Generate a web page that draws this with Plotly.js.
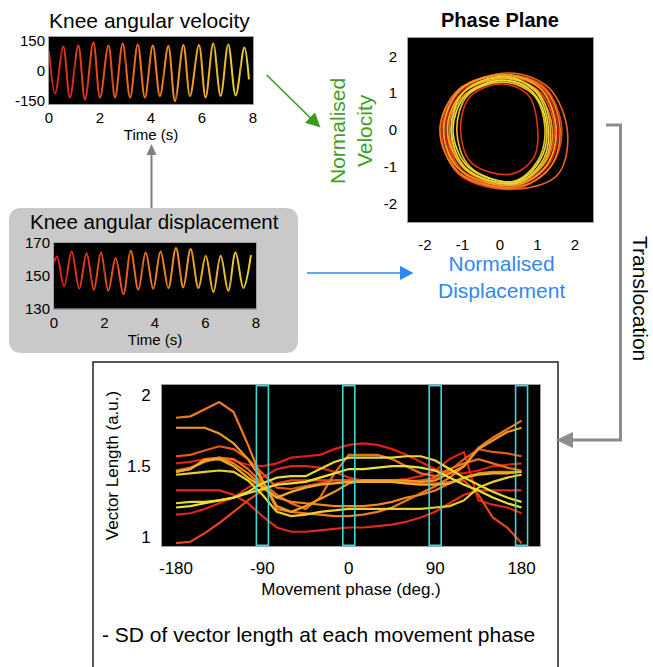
<!DOCTYPE html>
<html><head><meta charset="utf-8">
<script src="https://cdn.plot.ly/plotly-3.0.1.min.js"></script>
<style>html,body{margin:0;padding:0;background:#fff;}#chart{width:653px;height:667px;}</style>
</head><body><div id="chart"></div>
<script>
// ---------- DATA ----------
// Knee angular velocity (deg/s): start, alternating troughs/peaks, end
const velTime  = [0, 0.24, 0.56, 0.82, 1.15, 1.41, 1.74, 2.00, 2.33, 2.59, 2.89, 3.18, 3.48, 3.76, 4.07, 4.35, 4.68, 4.94, 5.27, 5.53, 5.88, 6.14, 6.44, 6.73, 7.03, 7.32, 7.66, 7.84];
const velValue = [100, -112, 122, -133, 128, -142, 142, -133, 128, -133, 138, -133, 133, -133, 128, -125, 125, -150, 130, -125, 130, -133, 138, -125, 133, -122, 117, -42];
// Knee angular displacement (deg)
const dispTime  = [0, 0.12, 0.40, 0.70, 1.00, 1.29, 1.58, 1.86, 2.15, 2.44, 2.75, 3.04, 3.34, 3.63, 3.93, 4.22, 4.53, 4.83, 5.12, 5.41, 5.72, 6.01, 6.31, 6.60, 6.90, 7.19, 7.50, 7.80];
const dispValue = [158, 161.5, 143.4, 164.6, 142.0, 163.5, 141.4, 164.0, 140.8, 160.5, 138.7, 165.0, 141.4, 164.0, 142.0, 164.6, 142.4, 166.6, 142.8, 166.0, 142.4, 161.9, 140.0, 161.9, 140.8, 164.0, 142.4, 162.3];
// Phase-plane loops (normalised displacement x, normalised velocity y), one per cycle
const loopX = [
  [1.55, 1.15, 0.15, -1.05, -1.45, -1.00, 0.35, 1.30, 1.55],
  [1.00, 0.75, 0.05, -0.80, -1.05, -0.75, 0.30, 0.90, 1.00],
  [1.65, 1.20, 0.20, -1.10, -1.55, -1.10, 0.40, 1.35, 1.65],
  [1.45, 1.05, 0.10, -1.00, -1.40, -1.00, 0.35, 1.20, 1.45],
  [1.80, 1.30, 0.25, -1.05, -1.50, -1.05, 0.50, 1.55, 1.80],
  [1.50, 1.10, 0.15, -0.95, -1.35, -0.95, 0.40, 1.25, 1.50],
  [1.60, 1.20, 0.20, -1.10, -1.60, -1.10, 0.45, 1.35, 1.60],
  [1.40, 1.00, 0.10, -0.95, -1.30, -0.90, 0.40, 1.15, 1.40],
  [1.50, 1.10, 0.20, -1.05, -1.50, -1.05, 0.40, 1.25, 1.50],
  [1.35, 1.00, 0.15, -1.00, -1.40, -0.95, 0.40, 1.15, 1.35],
  [1.20, 0.90, 0.10, -0.85, -1.15, -0.80, 0.35, 1.00, 1.20],
  [1.30, 0.95, 0.15, -0.95, -1.30, -0.90, 0.40, 1.10, 1.30],
  [1.25, 0.90, 0.10, -0.90, -1.25, -0.85, 0.40, 1.05, 1.25]
];
const loopY = [
  [0.05, 1.10, 1.45, 1.05, 0.00, -1.15, -1.55, -0.95, 0.05],
  [0.10, 0.95, 1.25, 0.90, 0.00, -0.90, -1.20, -0.75, 0.10],
  [0.00, 1.15, 1.50, 1.10, -0.05, -1.20, -1.60, -1.00, 0.00],
  [0.05, 1.05, 1.40, 1.00, 0.00, -1.10, -1.45, -0.90, 0.05],
  [-0.05, 1.15, 1.55, 1.10, 0.00, -1.20, -1.60, -1.20, -0.05],
  [0.00, 1.10, 1.45, 1.05, 0.05, -1.05, -1.50, -0.95, 0.00],
  [0.05, 1.10, 1.50, 1.10, 0.00, -1.15, -1.55, -1.00, 0.05],
  [0.00, 1.00, 1.35, 0.95, 0.00, -1.05, -1.45, -0.95, 0.00],
  [0.05, 1.10, 1.50, 1.10, 0.00, -1.10, -1.50, -0.95, 0.05],
  [0.00, 1.05, 1.40, 1.00, 0.05, -1.05, -1.45, -0.90, 0.00],
  [0.05, 0.95, 1.30, 0.95, 0.00, -1.00, -1.40, -0.85, 0.05],
  [0.00, 1.05, 1.45, 1.05, 0.00, -1.05, -1.45, -0.90, 0.00],
  [0.05, 1.00, 1.35, 0.95, 0.00, -1.00, -1.40, -0.85, 0.05]
];
// Vector length vs movement phase, one line per cycle
const phaseDeg = [-180, -165, -150, -135, -120, -105, -90, -75, -60, -45, -30, -15, 0, 15, 30, 45, 60, 75, 90, 105, 120, 135, 150, 165, 180];
const vecLen = [
  [1.52,1.53,1.55,1.55,1.54,1.51,1.50,1.52,1.56,1.57,1.58,1.62,1.65,1.66,1.65,1.62,1.58,1.53,1.48,1.45,1.45,1.47,1.50,1.51,1.52],
  [1.16,1.17,1.20,1.24,1.28,1.35,1.42,1.48,1.50,1.50,1.49,1.46,1.42,1.40,1.40,1.40,1.41,1.43,1.47,1.55,1.60,1.26,1.23,1.21,1.17],
  [1.33,1.33,1.33,1.33,1.30,1.24,1.15,1.07,1.04,1.04,1.05,1.06,1.07,1.07,1.08,1.09,1.11,1.14,1.18,1.24,1.30,1.33,1.33,1.33,1.33],
  [0.96,0.97,1.03,1.10,1.18,1.26,1.33,1.38,1.40,1.40,1.40,1.40,1.40,1.40,1.40,1.39,1.38,1.38,1.38,1.39,1.40,1.30,1.14,1.07,0.96],
  [1.57,1.58,1.61,1.64,1.62,1.55,1.45,1.35,1.34,1.36,1.38,1.40,1.40,1.40,1.40,1.40,1.39,1.40,1.42,1.47,1.55,1.62,1.60,1.59,1.57],
  [1.47,1.49,1.53,1.56,1.55,1.48,1.38,1.30,1.24,1.20,1.28,1.45,1.58,1.58,1.58,1.55,1.50,1.45,1.43,1.48,1.52,1.55,1.52,1.49,1.47],
  [1.84,1.85,1.90,1.95,1.88,1.65,1.40,1.20,1.18,1.17,1.16,1.15,1.15,1.16,1.18,1.21,1.26,1.31,1.36,1.42,1.50,1.63,1.70,1.76,1.82],
  [1.46,1.48,1.55,1.56,1.52,1.45,1.36,1.28,1.25,1.24,1.23,1.22,1.22,1.22,1.23,1.25,1.28,1.30,1.33,1.38,1.42,1.45,1.46,1.46,1.46],
  [1.77,1.77,1.77,1.73,1.66,1.55,1.40,1.22,1.18,1.22,1.27,1.32,1.38,1.40,1.40,1.40,1.40,1.39,1.40,1.45,1.50,1.62,1.68,1.74,1.77],
  [1.46,1.48,1.54,1.55,1.50,1.42,1.35,1.28,1.32,1.35,1.37,1.38,1.39,1.39,1.39,1.39,1.38,1.37,1.37,1.38,1.42,1.44,1.45,1.45,1.46],
  [1.44,1.45,1.46,1.47,1.46,1.40,1.30,1.18,1.15,1.16,1.18,1.19,1.20,1.20,1.20,1.20,1.20,1.20,1.21,1.22,1.26,1.35,1.39,1.42,1.44],
  [1.24,1.25,1.25,1.26,1.28,1.32,1.38,1.42,1.43,1.43,1.48,1.53,1.56,1.56,1.56,1.56,1.57,1.57,1.54,1.48,1.42,1.37,1.32,1.28,1.25],
  [1.21,1.22,1.24,1.26,1.28,1.31,1.34,1.37,1.38,1.39,1.42,1.45,1.48,1.48,1.49,1.50,1.50,1.49,1.47,1.42,1.37,1.33,1.28,1.24,1.21]
];
// Phases at which the SD of vector length is taken
const sdPhases = [-90, 0, 90, 180];
// Tick values and labels
const timeTicks = [0, 2, 4, 6, 8];
const velTicks = [-150, 0, 150];
const velTickText = ['-150', '0', '150'];
const dispTicks = [130, 150, 170];
const ppTicks = [-2, -1, 0, 1, 2];
const ppTickText = ['-2', '-1', '0', '1', '2'];
const phaseTicks = [-180, -90, 0, 90, 180];
const phaseTickText = ['-180', '-90', '0', '90', '180'];
const vlTicks = [1, 1.5, 2];
const vlTickText = ['1', '1.5', '2'];

// ---------- STYLE / LAYOUT ----------
const W = 653, H = 667;
const fx = v => v / W, fy = v => 1 - v / H;
const P = (x, y) => fx(x).toFixed(5) + ',' + fy(y).toFixed(5);
function grad(f) {
  f = Math.max(0, Math.min(1, f));
  const s = [[222, 30, 24], [242, 132, 30], [232, 228, 52]];
  let a, b, t;
  if (f < 0.5) { a = s[0]; b = s[1]; t = f / 0.5; } else { a = s[1]; b = s[2]; t = (f - 0.5) / 0.5; }
  return 'rgb(' + a.map((v, i) => Math.round(v + (b[i] - v) * t)).join(',') + ')';
}
const FONT = 'Liberation Sans, Arial, Helvetica, sans-serif';
const baseAx = o => Object.assign({
  showgrid: false, zeroline: false, showline: true, mirror: true, linecolor: '#a0a0a0', linewidth: 1,
  ticks: '', fixedrange: true, tickfont: { size: 15, color: '#000', family: FONT }
}, o);

const layout = {
  width: W, height: H, margin: { l: 0, r: 0, t: 0, b: 0 },
  paper_bgcolor: '#ffffff', plot_bgcolor: 'rgba(0,0,0,0)', showlegend: false,
  font: { family: FONT, color: '#000' },
  xaxis: baseAx({ domain: [fx(49), fx(253)], range: [0, 8], anchor: 'y', tickvals: timeTicks,
    title: { text: 'Time (s)', font: { size: 15 }, standoff: 3 } }),
  yaxis: baseAx({ domain: [fy(104), fy(37)], range: [-165, 170], anchor: 'x', tickvals: velTicks, ticktext: velTickText }),
  xaxis2: baseAx({ domain: [fx(54), fx(256)], range: [0, 8], anchor: 'y2', tickvals: timeTicks,
    title: { text: 'Time (s)', font: { size: 15 }, standoff: 3 } }),
  yaxis2: baseAx({ domain: [fy(308.5), fy(242.5)], range: [130, 170], anchor: 'x2', tickvals: dispTicks }),
  xaxis3: baseAx({ domain: [fx(408), fx(593)], range: [-2.45, 2.48], anchor: 'y3', tickvals: ppTicks, ticktext: ppTickText,
    ticks: 'outside', ticklen: 9, tickcolor: 'rgba(0,0,0,0)' }),
  yaxis3: baseAx({ domain: [fy(222), fy(38)], range: [-2.5, 2.5], anchor: 'x3', tickvals: ppTicks, ticktext: ppTickText,
    ticks: 'outside', ticklen: 7, tickcolor: 'rgba(0,0,0,0)' }),
  xaxis4: baseAx({ domain: [fx(162), fx(540)], range: [-194.6, 199.2], anchor: 'y4', tickvals: phaseTicks, ticktext: phaseTickText,
    ticks: 'outside', ticklen: 7, tickcolor: 'rgba(0,0,0,0)', tickfont: { size: 17, color: '#000', family: FONT },
    title: { text: 'Movement phase (deg.)', font: { size: 17 }, standoff: 5 } }),
  yaxis4: baseAx({ domain: [fy(546), fy(385)], range: [0.94, 2.07], anchor: 'x4', tickvals: vlTicks, ticktext: vlTickText,
    ticks: 'outside', ticklen: 7, tickcolor: 'rgba(0,0,0,0)', tickfont: { size: 17, color: '#000', family: FONT },
    title: { text: 'Vector Length (a.u.)', font: { size: 17 }, standoff: 4 } }),
  shapes: [], annotations: []
};

const traces = [];
traces.push({ x: [null], y: [null], xaxis: 'x', yaxis: 'y', mode: 'lines', hoverinfo: 'skip' });
traces.push({ x: [null], y: [null], xaxis: 'x2', yaxis: 'y2', mode: 'lines', hoverinfo: 'skip' });

// Colour-graded time series: the same full series drawn in adjacent clipped windows
const nWin = 16;
function addWindows(firstId, baseDomain, yId, tArr, vArr) {
  const d0 = baseDomain[0], d1 = baseDomain[1];
  for (let k = 0; k < nWin; k++) {
    const a = 8 * k / nWin, b = 8 * (k + 1) / nWin;
    const id = firstId + k;
    layout['xaxis' + id] = { domain: [d0 + (a / 8) * (d1 - d0), d0 + (b / 8) * (d1 - d0)], range: [a, b],
      visible: false, anchor: yId, fixedrange: true, showgrid: false, zeroline: false };
    traces.push({ x: tArr, y: vArr, xaxis: 'x' + id, yaxis: yId, mode: 'lines', hoverinfo: 'skip',
      line: { shape: 'spline', smoothing: 1, width: 2, color: grad(0.85 * (k + 0.5) / nWin + 0.1 * Math.pow((k + 0.5) / nWin, 2)), simplify: false } });
  }
}
addWindows(5, layout.xaxis.domain, 'y', velTime, velValue);
addWindows(5 + nWin, layout.xaxis2.domain, 'y2', dispTime, dispValue);

// Phase plane loops
loopX.forEach((lx, i) => {
  traces.push({ x: lx, y: loopY[i], xaxis: 'x3', yaxis: 'y3', mode: 'lines', hoverinfo: 'skip',
    line: { shape: 'spline', smoothing: 1, width: 1.6, color: grad(i / (loopX.length - 1)), simplify: false } });
});

// Vector length lines
const vlColorF = [0.0, 0.03, 0.06, 0.2, 0.28, 0.38, 0.45, 0.5, 0.62, 0.72, 0.88, 0.95, 1.0];
vecLen.forEach((v, i) => {
  traces.push({ x: phaseDeg, y: v, xaxis: 'x4', yaxis: 'y4', mode: 'lines', hoverinfo: 'skip',
    line: { width: 2.2, color: grad(vlColorF[i]), simplify: false } });
});

// ---------- shapes ----------
const S = layout.shapes;
function roundRect(x0, y0, x1, y1, r) {
  return 'M' + P(x0 + r, y0) + ' L' + P(x1 - r, y0) + ' Q' + P(x1, y0) + ' ' + P(x1, y0 + r) +
    ' L' + P(x1, y1 - r) + ' Q' + P(x1, y1) + ' ' + P(x1 - r, y1) +
    ' L' + P(x0 + r, y1) + ' Q' + P(x0, y1) + ' ' + P(x0, y1 - r) +
    ' L' + P(x0, y0 + r) + ' Q' + P(x0, y0) + ' ' + P(x0 + r, y0) + ' Z';
}
S.push({ type: 'path', xref: 'paper', yref: 'paper', path: roundRect(9, 208, 298, 353, 13),
  fillcolor: '#c9c9c9', line: { width: 0 }, layer: 'below' });
// black plot backgrounds
[['x', 'y'], ['x2', 'y2'], ['x3', 'y3'], ['x4', 'y4']].forEach(p => {
  S.push({ type: 'rect', xref: p[0] + ' domain', yref: p[1] + ' domain', x0: 0, x1: 1, y0: 0, y1: 1,
    fillcolor: '#000', line: { width: 0 }, layer: 'below' });
});
// bottom framed box
S.push({ type: 'rect', xref: 'paper', yref: 'paper', x0: fx(93), x1: fx(558), y0: -0.05, y1: fy(362),
  line: { color: '#222', width: 1.5 }, fillcolor: 'rgba(0,0,0,0)', layer: 'below' });
// cyan phase windows
sdPhases.forEach(c => {
  S.push({ type: 'rect', xref: 'x4', yref: 'y4 domain', x0: c - 6.25, x1: c + 6.25, y0: 0.004, y1: 0.996,
    line: { color: '#3fd6d6', width: 1.6 }, fillcolor: 'rgba(0,0,0,0)', layer: 'above' });
});
// arrows
function line(x0, y0, x1, y1, color, w) {
  S.push({ type: 'line', xref: 'paper', yref: 'paper', x0: fx(x0), y0: fy(y0), x1: fx(x1), y1: fy(y1),
    line: { color: color, width: w } });
}
function tri(a, b, c, color) {
  S.push({ type: 'path', xref: 'paper', yref: 'paper', path: 'M' + P(a[0], a[1]) + ' L' + P(b[0], b[1]) + ' L' + P(c[0], c[1]) + ' Z',
    fillcolor: color, line: { width: 0 } });
}
// gray up arrow (displacement -> velocity)
line(151.5, 208, 151.5, 153, '#808080', 2);
tri([151.5, 144], [146.5, 155], [156.5, 155], '#808080');
// green arrow (velocity -> phase plane)
line(266.7, 75, 311, 118.5, '#3a9b1f', 1.6);
tri([320.5, 127.5], [305, 122.8], [315, 112.5], '#3a9b1f');
// blue arrow (displacement -> phase plane)
line(307, 273, 401, 273, '#2f86ef', 1.6);
tri([413.5, 273], [400, 266], [400, 280], '#2f86ef');
// translocation bracket
S.push({ type: 'path', xref: 'paper', yref: 'paper',
  path: 'M' + P(606, 125) + ' L' + P(620.5, 125) + ' L' + P(620.5, 440) + ' L' + P(570, 440),
  line: { color: '#8c8c8c', width: 3 } });
tri([556, 440], [573, 432], [573, 448], '#8c8c8c');

// ---------- text ----------
const A = layout.annotations;
function txt(text, x, y, o) {
  A.push(Object.assign({ text: text, x: fx(x), y: fy(y), xref: 'paper', yref: 'paper', showarrow: false,
    xanchor: 'center', yanchor: 'middle', font: { size: 21, color: '#000', family: FONT } }, o || {}));
}
txt('Knee angular velocity', 149, 20);
txt('Knee angular displacement', 154, 222, { font: { size: 20.5, color: '#000', family: FONT } });
txt('<b>Phase Plane</b>', 500, 20, { font: { size: 20, color: '#000', family: FONT } });
txt('Normalised<br>Velocity', 351, 131, { textangle: -90, font: { size: 21, color: '#3f9f22', family: FONT } });
txt('Normalised<br>Displacement', 502, 277, { font: { size: 21, color: '#3288ee', family: FONT } });
txt('Translocation', 641, 298, { textangle: 90 });
txt('- SD of vector length at each movement phase', 100, 634, { xanchor: 'left' });

Plotly.newPlot('chart', traces, layout, { staticPlot: true, displayModeBar: false });
</script>
</body></html>
